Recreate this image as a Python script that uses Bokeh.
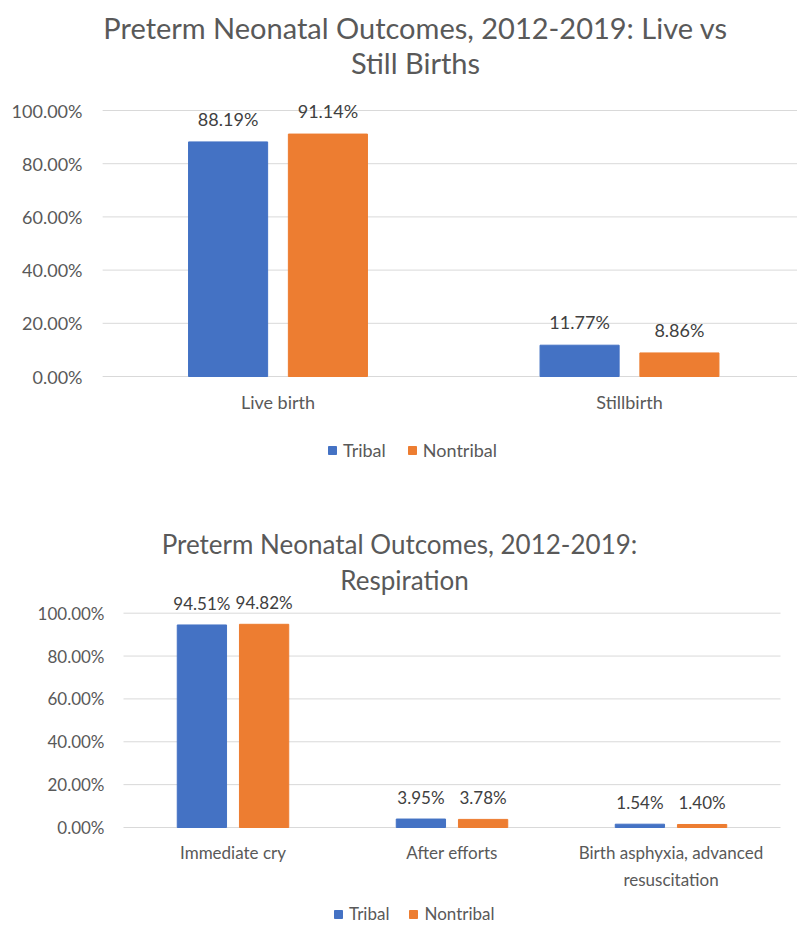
from bokeh.plotting import figure
from bokeh.models import Range1d, FixedTicker, PrintfTickFormatter, Legend, LegendItem
from bokeh.layouts import column
from bokeh.embed import file_html
from bokeh.resources import INLINE
from bokeh.core.properties import value

FONT = "Lato"
TEXT = "#595959"
LABEL = "#404040"
BLUE = "#4472C4"
ORANGE = "#ED7D31"
GRID = "#D9D9D9"

series = ["Tribal", "Nontribal"]

title1 = ["Preterm Neonatal Outcomes, 2012-2019: Live vs", "Still Births"]
cats1 = ["Live birth", "Stillbirth"]
tribal1 = [88.19, 11.77]
nontribal1 = [91.14, 8.86]

title2 = ["Preterm Neonatal Outcomes, 2012-2019:", "Respiration"]
cats2 = ["Immediate cry", "After efforts", "Birth asphyxia, advanced\nresuscitation"]
tribal2 = [94.51, 3.95, 1.54]
nontribal2 = [94.82, 3.78, 1.40]

yticks = [0, 20, 40, 60, 80, 100]

W = 797
FRAME_LEFT = 102


def make_chart(title, cats, tribal, nontribal, H, zero_py, pct_px, cat_px, cat0_px,
               fs, title_fs, title_pos, ylab_standoff, legend_xy, legend_spacing,
               xlab_standoff, label_offset):
    # pixel geometry -> data ranges (frame spans FRAME_LEFT..W horizontally, 0..H vertically)
    fw = W - FRAME_LEFT
    x_start = -(cat0_px - FRAME_LEFT) / cat_px
    x_end = x_start + fw / cat_px
    y_start = -(H - zero_py) / pct_px
    y_end = zero_py / pct_px

    def dx(px):
        return x_start + (px - FRAME_LEFT) / cat_px

    def dy(py):
        return (zero_py - py) / pct_px

    p = figure(width=W, height=H, output_backend="svg", toolbar_location=None, title=None,
               x_range=Range1d(x_start, x_end), y_range=Range1d(y_start, y_end),
               min_border_left=FRAME_LEFT, min_border_right=0,
               min_border_top=0, min_border_bottom=0)
    p.outline_line_color = None
    p.background_fill_color = "white"
    p.border_fill_color = "white"
    p.xgrid.grid_line_color = None
    p.ygrid.grid_line_color = None

    n = len(cats)
    # horizontal gridlines across the category area
    p.segment(x0=[-0.5] * len(yticks), x1=[min(n - 0.5, x_end)] * len(yticks),
              y0=yticks, y1=yticks, line_color=GRID, line_width=1)

    # title lines
    for line, (cx, base) in zip(title, title_pos):
        p.text(x=[dx(cx)], y=[dy(base)], text=[line], text_align="center",
               text_baseline="alphabetic", text_font=value(FONT),
               text_font_size=f"{title_fs}px", text_color=TEXT)

    xs = list(range(n))
    bw = 0.225
    off = 0.142
    xt = [x - off for x in xs]
    xn = [x + off for x in xs]
    r1 = p.vbar(x=xt, top=tribal, width=bw, color=BLUE)
    r2 = p.vbar(x=xn, top=nontribal, width=bw, color=ORANGE)

    for xx, vals in ((xt, tribal), (xn, nontribal)):
        p.text(x=xx, y=vals, text=[f"{v:.2f}%" for v in vals],
               text_align="center", text_baseline="bottom", y_offset=label_offset,
               text_font=value(FONT), text_font_size=f"{fs}px", text_color=LABEL)

    p.yaxis.ticker = FixedTicker(ticks=yticks)
    p.yaxis.formatter = PrintfTickFormatter(format="%.2f%%")
    p.yaxis.axis_line_color = None
    p.yaxis.major_tick_line_color = None
    p.yaxis.minor_tick_line_color = None
    p.yaxis.major_tick_out = 0
    p.yaxis.major_tick_in = 0
    p.yaxis.major_label_standoff = ylab_standoff
    p.yaxis.major_label_text_font = FONT
    p.yaxis.major_label_text_font_size = f"{fs}px"
    p.yaxis.major_label_text_color = TEXT

    p.xaxis.fixed_location = 0
    p.xaxis.ticker = FixedTicker(ticks=xs)
    p.xaxis.major_label_overrides = {i: c for i, c in enumerate(cats)}
    p.xaxis.axis_line_color = None
    p.xaxis.major_tick_line_color = None
    p.xaxis.minor_tick_line_color = None
    p.xaxis.major_tick_out = 0
    p.xaxis.major_tick_in = 0
    p.xaxis.major_label_standoff = xlab_standoff
    p.xaxis.major_label_text_font = FONT
    p.xaxis.major_label_text_font_size = f"{fs}px"
    p.xaxis.major_label_text_color = TEXT
    p.xaxis.major_label_text_line_height = 1.3

    legend = Legend(items=[LegendItem(label=series[0], renderers=[r1]),
                           LegendItem(label=series[1], renderers=[r2])],
                    orientation="horizontal", location=legend_xy,
                    glyph_width=10, glyph_height=10, label_standoff=6,
                    spacing=legend_spacing, padding=0, margin=0,
                    border_line_color=None, background_fill_alpha=0,
                    label_text_font=FONT, label_text_font_size=f"{fs}px",
                    label_text_color=TEXT, label_height=10)
    p.add_layout(legend, "center")
    return p


# top chart (page px): 0 % at y=376, 20 % = 53.2 px, categories 351.5 px apart, first at x=277.5
p1 = make_chart(title1, cats1, tribal1, nontribal1, H=490,
                zero_py=376, pct_px=2.66, cat_px=351.5, cat0_px=277.5,
                fs=18, title_fs=29, title_pos=[(415, 27), (415, 62)],
                ylab_standoff=20, legend_xy=(225, 29), legend_spacing=21,
                xlab_standoff=14, label_offset=-12)
# bottom chart (figure px, figure starts at page y=490): 0 % at 827, categories 219 px apart, first at x=232.5
p2 = make_chart(title2, cats2, tribal2, nontribal2, H=436,
                zero_py=827 - 490, pct_px=2.143, cat_px=219, cat0_px=232.5,
                fs=17, title_fs=26, title_pos=[(399, 543 - 490), (404, 579 - 490)],
                ylab_standoff=-2, legend_xy=(231, 2), legend_spacing=19,
                xlab_standoff=14, label_offset=-11)

layout = column(p1, p2, spacing=0)
open("out.html", "w").write(file_html(layout, INLINE))
